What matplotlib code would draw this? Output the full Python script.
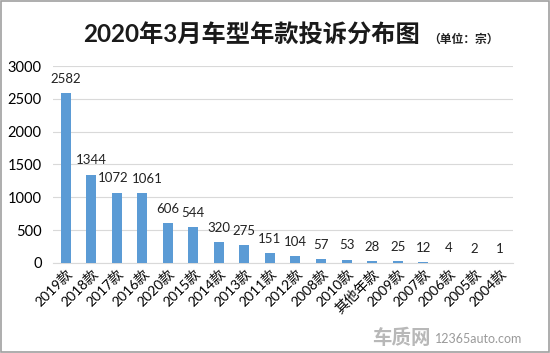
import matplotlib.pyplot as plt

plt.rcParams['font.family'] = ['Lato', 'Noto Sans CJK SC', 'DejaVu Sans']

years = ['2019款', '2018款', '2017款', '2016款', '2020款', '2015款', '2014款', '2013款',
         '2011款', '2012款', '2008款', '2010款', '其他年款', '2009款', '2007款', '2006款',
         '2005款', '2004款']
counts = [2582, 1344, 1072, 1061, 606, 544, 320, 275, 151, 104, 57, 53, 28, 25, 12, 4, 2, 1]

fig = plt.figure(figsize=(5.5, 3.53), dpi=100)
ax = fig.add_axes([0.096, 0.255, 0.836, 0.558])

x = range(len(years))
bars = ax.bar(x, counts, width=0.39, color='#5B9BD5', zorder=3)
labels = ax.bar_label(bars, padding=6, fontsize=9.5, color='#222222')
# nudge the two neighbouring 4-digit labels apart, like the original does
labels[2].xyann = (-2.5, 6)
labels[3].xyann = (3.5, 6)

ax.set_xlim(-0.5, len(years) - 0.5)
ax.set_ylim(0, 3000)
ax.set_yticks(range(0, 3001, 500))
ax.yaxis.grid(True, color='#d9d9d9', linewidth=0.8, zorder=0)
ax.tick_params(axis='y', length=0, labelsize=10.5, pad=8)
ax.tick_params(axis='x', length=0, labelsize=10, pad=3)
ax.set_xticks(list(x))
ax.set_xticklabels(years, rotation=45, ha='right', rotation_mode='anchor')

for s in ['top', 'right', 'left']:
    ax.spines[s].set_visible(False)
ax.spines['bottom'].set_color('#d9d9d9')

fig.text(0.458, 0.9, '2020年3月车型年款投诉分布图', ha='center', va='center',
         fontsize=17.5, fontweight='bold', color='#1a1a1a')
fig.text(0.842, 0.888, '（单位：宗）', ha='center', va='center', fontsize=8.5,
         fontweight='bold', color='#222222')

fig.text(0.73, 0.045, '车质网', ha='center', va='center', fontsize=14,
         fontweight='bold', color='#b8b8b8')
fig.text(0.87, 0.04, '12365auto.com', ha='center', va='center', fontsize=9,
         color='#9a9a9a')

fig.patches.append(plt.Rectangle((0.002, 0.003), 0.996, 0.994, transform=fig.transFigure,
                                 fill=False, edgecolor='#a0a0a0', linewidth=1.2))

fig.savefig('out.png', dpi=100)
